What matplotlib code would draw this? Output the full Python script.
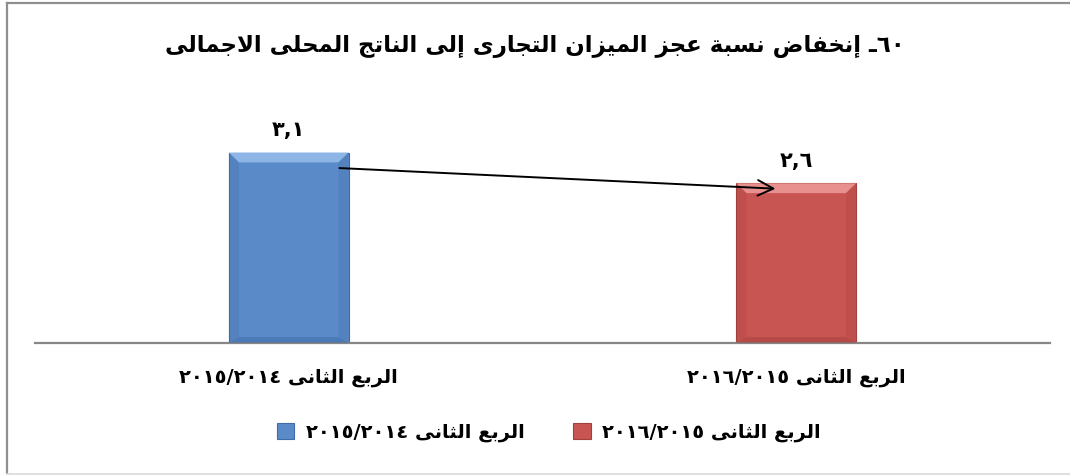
import matplotlib
matplotlib.use("Agg")
import matplotlib.pyplot as plt
from matplotlib.patches import Patch, Polygon
from matplotlib.lines import Line2D

title = "٦٠ـ إنخفاض نسبة عجز الميزان التجارى إلى الناتج المحلى الاجمالى"
categories = ["الربع الثانى ٢٠١٥/٢٠١٤", "الربع الثانى ٢٠١٦/٢٠١٥"]
legend_labels = ["الربع الثانى ٢٠١٥/٢٠١٤", "الربع الثانى ٢٠١٦/٢٠١٥"]
values = [3.1, 2.6]

body_colors = ["#5A8AC8", "#C95552"]
light_colors = ["#8DB5E6", "#E8908D"]
dark_colors = ["#3F6BA6", "#A2403E"]

# --- minimal arabic shaping: contextual forms + right-to-left ordering ---
FORMS = {  # letter: (isolated presentation form, joins to the following letter)
    'ا': (0xFE8D, False), 'إ': (0xFE87, False), 'أ': (0xFE83, False), 'آ': (0xFE81, False),
    'ب': (0xFE8F, True), 'ة': (0xFE93, False), 'ت': (0xFE95, True), 'ث': (0xFE99, True),
    'ج': (0xFE9D, True), 'ح': (0xFEA1, True), 'خ': (0xFEA5, True), 'د': (0xFEA9, False),
    'ذ': (0xFEAB, False), 'ر': (0xFEAD, False), 'ز': (0xFEAF, False), 'س': (0xFEB1, True),
    'ش': (0xFEB5, True), 'ص': (0xFEB9, True), 'ض': (0xFEBD, True), 'ط': (0xFEC1, True),
    'ظ': (0xFEC5, True), 'ع': (0xFEC9, True), 'غ': (0xFECD, True), 'ف': (0xFED1, True),
    'ق': (0xFED5, True), 'ك': (0xFED9, True), 'ل': (0xFEDD, True), 'م': (0xFEE1, True),
    'ن': (0xFEE5, True), 'ه': (0xFEE9, True), 'و': (0xFEED, False), 'ى': (0xFEEF, False),
    'ي': (0xFEF1, True),
}
LAM_ALEF = {'ا': 0xFEFB, 'أ': 0xFEF7, 'إ': 0xFEF9, 'آ': 0xFEF5}
TATWEEL = 'ـ'
DIGITS = set('٠١٢٣٤٥٦٧٨٩0123456789/,.')


def _joins_next(ch):
    return ch == TATWEEL or (ch in FORMS and FORMS[ch][1])


def _shape(s):
    out = []
    i = 0
    while i < len(s):
        ch = s[i]
        if ch not in FORMS:
            out.append(ch)
            i += 1
            continue
        prev = i > 0 and _joins_next(s[i - 1])
        nxt_ch = s[i + 1] if i + 1 < len(s) else ''
        if ch == 'ل' and nxt_ch in LAM_ALEF:
            out.append(chr(LAM_ALEF[nxt_ch] + (1 if prev else 0)))
            i += 2
            continue
        base, dual = FORMS[ch]
        nxt = dual and (nxt_ch in FORMS or nxt_ch == TATWEEL)
        if prev and nxt:
            off = 3
        elif nxt:
            off = 2
        elif prev:
            off = 1
        else:
            off = 0
        out.append(chr(base + off))
        i += 1
    return ''.join(out)


def rtl(s):
    # split into number runs (kept left-to-right) and arabic runs (reversed)
    runs = []
    for ch in s:
        kind = ch in DIGITS
        if runs and runs[-1][0] == kind:
            runs[-1][1] += ch
        else:
            runs.append([kind, ch])
    parts = []
    for kind, text in reversed(runs):
        parts.append(text if kind else _shape(text)[::-1])
    return ''.join(parts)


def ar_number(v):
    return f"{v:.1f}".translate(str.maketrans("0123456789.", "٠١٢٣٤٥٦٧٨٩,"))


plt.rcParams['font.family'] = ['DejaVu Sans']

fig = plt.figure(figsize=(10.7, 4.75), dpi=100)
ax = fig.add_axes([0.0327, 0.2779, 0.9486, 0.4526])

x = list(range(len(values)))
width = 0.236
bars = ax.bar(x, values, width=width, color=body_colors,
              edgecolor=dark_colors, linewidth=0.8, zorder=2)

# bevelled look on each bar
bx, by = 0.02, 0.16
for rect, lc, dc in zip(bars, light_colors, dark_colors):
    x0, x1 = rect.get_x(), rect.get_x() + rect.get_width()
    top = rect.get_height()
    ax.add_patch(Polygon([(x0, top), (x1, top), (x1 - bx, top - by), (x0 + bx, top - by)],
                         closed=True, facecolor=lc, edgecolor='none', zorder=3))
    ax.add_patch(Polygon([(x0, 0), (x1, 0), (x1 - bx, by * 0.6), (x0 + bx, by * 0.6)],
                         closed=True, facecolor=dc, edgecolor='none', alpha=0.5, zorder=3))
    for xa, xb in ((x0, x0 + bx), (x1, x1 - bx)):
        ax.add_patch(Polygon([(xa, 0), (xa, top), (xb, top - by), (xb, by * 0.6)],
                             closed=True, facecolor=dc, edgecolor='none', alpha=0.25, zorder=3))

for xi, v in zip(x, values):
    ax.annotate(ar_number(v), xy=(xi, v), xytext=(0, 9), textcoords='offset points',
                ha='center', va='bottom', fontsize=15, fontweight='bold')

# arrow from the first bar to the second
hw = width / 2
ax.annotate('', xy=(x[1] - 0.3 * hw, values[1] - 0.09),
            xytext=(x[0] + 0.8 * hw, values[0] - 0.25),
            arrowprops=dict(arrowstyle='->', color='black', lw=1.4, mutation_scale=28),
            zorder=5)

ax.set_xlim(-0.5, 1.5)
ax.set_ylim(0, 3.5)
ax.set_yticks([])
ax.set_xticks(x)
ax.set_xticklabels([rtl(c) for c in categories], fontsize=14, fontweight='bold')
ax.tick_params(axis='x', length=0, pad=18)
for side in ('top', 'left', 'right'):
    ax.spines[side].set_visible(False)
ax.spines['bottom'].set_color('#878787')
ax.spines['bottom'].set_linewidth(1.6)

fig.text(0.5, 0.902, rtl(title), ha='center', va='center', fontsize=16.5, fontweight='bold')

handles = [Patch(facecolor=c, edgecolor=d, linewidth=0.8) for c, d in zip(body_colors, dark_colors)]
fig.legend(handles, [rtl(t) for t in legend_labels], loc='center', ncol=2,
           bbox_to_anchor=(0.513, 0.0905), frameon=False,
           prop={'size': 14, 'weight': 'bold'}, handlelength=0.9, handleheight=0.9,
           handletextpad=0.6, columnspacing=2.5)

# outer chart frame
fig.add_artist(Line2D([6.5 / 1070, 6.5 / 1070], [2 / 475, 472.5 / 475],
                      transform=fig.transFigure, color='#8f8f8f', lw=1.6))
fig.add_artist(Line2D([6.5 / 1070, 1.0], [472.5 / 475, 472.5 / 475],
                      transform=fig.transFigure, color='#8f8f8f', lw=1.6))
fig.add_artist(Line2D([6.5 / 1070, 1.0], [1.5 / 475, 1.5 / 475],
                      transform=fig.transFigure, color='#d9d9d9', lw=1.2))

fig.savefig('out.png', dpi=100)
